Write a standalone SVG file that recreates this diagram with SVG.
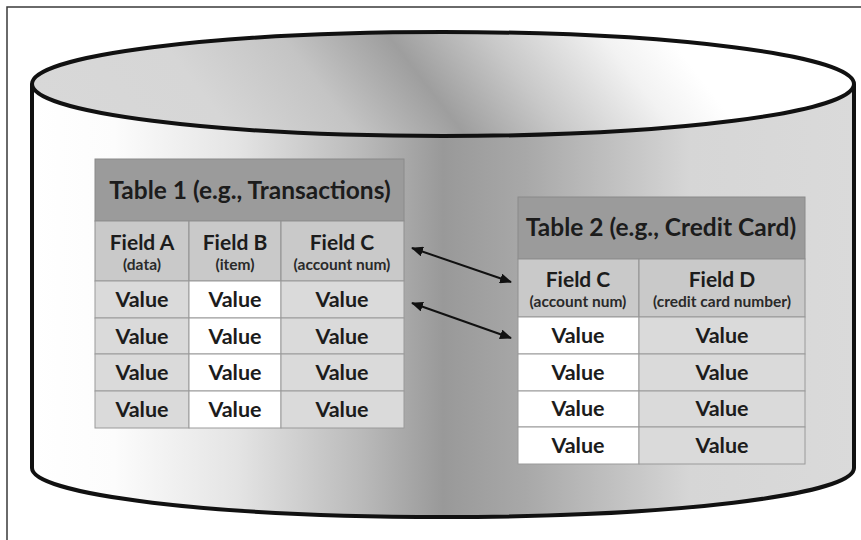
<svg xmlns="http://www.w3.org/2000/svg" width="861" height="540" viewBox="0 0 861 540">
<defs>
<linearGradient id="gBody" gradientUnits="userSpaceOnUse" x1="32" y1="0" x2="854" y2="0">
<stop offset="0" stop-color="#ffffff"/>
<stop offset="0.1" stop-color="#fcfcfc"/>
<stop offset="0.25" stop-color="#e4e4e4"/>
<stop offset="0.4" stop-color="#bababa"/>
<stop offset="0.5" stop-color="#999999"/>
<stop offset="0.6" stop-color="#a8a8a8"/>
<stop offset="0.8" stop-color="#d6d6d6"/>
<stop offset="1" stop-color="#dadada"/>
</linearGradient>
<linearGradient id="gTop" gradientUnits="userSpaceOnUse" x1="184" y1="283" x2="700" y2="-115">
<stop offset="0" stop-color="#d8d8d8"/>
<stop offset="0.2" stop-color="#d6d6d6"/>
<stop offset="0.35" stop-color="#c4c4c4"/>
<stop offset="0.48" stop-color="#9e9e9e"/>
<stop offset="0.6" stop-color="#c8c8c8"/>
<stop offset="0.74" stop-color="#f2f2f2"/>
<stop offset="0.82" stop-color="#ffffff"/>
<stop offset="1" stop-color="#ffffff"/>
</linearGradient>
<marker id="ah" viewBox="0 0 12 10" refX="11" refY="5" markerWidth="12" markerHeight="10" markerUnits="userSpaceOnUse" orient="auto-start-reverse">
<path d="M0,0 L12,5 L0,10 Z" fill="#111"/>
</marker>
<style>
.title{font-family:Lato,"Liberation Sans",sans-serif;font-weight:bold;font-size:24.5px;fill:#1c1c1c;text-anchor:middle}
.fld{font-family:Lato,"Liberation Sans",sans-serif;font-weight:bold;font-size:21px;fill:#1c1c1c;text-anchor:middle}
.sub{font-family:Lato,"Liberation Sans",sans-serif;font-weight:bold;font-size:15.5px;fill:#2a2a2a;text-anchor:middle}
.val{font-family:Lato,"Liberation Sans",sans-serif;font-weight:bold;font-size:21.5px;fill:#1c1c1c;text-anchor:middle}
.th{fill:#9b9b9b;stroke:#8a8a8a;stroke-width:1}
.hd{fill:#c9c9c9;stroke:#8f8f8f;stroke-width:1}
.cg{fill:#dadada;stroke:#9a9a9a;stroke-width:1}
.cw{fill:#ffffff;stroke:#9a9a9a;stroke-width:1}
.conn{stroke:#111;stroke-width:2;fill:none}
</style>
</defs>
<rect x="7" y="7" width="900" height="600" fill="#ffffff" stroke="#3a3a3a" stroke-width="1.5"/>
<g id="cylinder">
<path d="M32,84 V468 A411,49 0 0 0 854,468 V84 Z" fill="url(#gBody)"/>
<path d="M32,84 V468 A411,49 0 0 0 854,468 V84" fill="none" stroke="#111" stroke-width="4"/>
<ellipse cx="443" cy="84" rx="411" ry="52" fill="url(#gTop)" stroke="#111" stroke-width="4"/>
</g>
<g id="table1">
<rect class="th" x="95" y="159" width="309" height="62"/>
<rect class="hd" x="95" y="221" width="94" height="60"/>
<rect class="hd" x="189" y="221" width="92" height="60"/>
<rect class="hd" x="281" y="221" width="123" height="60"/>
<rect class="cg" x="95" y="281" width="94" height="37"/>
<rect class="cw" x="189" y="281" width="92" height="37"/>
<rect class="cg" x="281" y="281" width="123" height="37"/>
<rect class="cg" x="95" y="318" width="94" height="36"/>
<rect class="cw" x="189" y="318" width="92" height="36"/>
<rect class="cg" x="281" y="318" width="123" height="36"/>
<rect class="cg" x="95" y="354" width="94" height="37"/>
<rect class="cw" x="189" y="354" width="92" height="37"/>
<rect class="cg" x="281" y="354" width="123" height="37"/>
<rect class="cg" x="95" y="391" width="94" height="37"/>
<rect class="cw" x="189" y="391" width="92" height="37"/>
<rect class="cg" x="281" y="391" width="123" height="37"/>
<text class="title" x="250" y="199">Table 1 (e.g., Transactions)</text>
<text class="fld" x="142" y="250">Field A</text>
<text class="sub" x="142" y="270">(data)</text>
<text class="fld" x="235" y="250">Field B</text>
<text class="sub" x="235" y="270">(item)</text>
<text class="fld" x="342" y="250">Field C</text>
<text class="sub" x="342" y="270">(account num)</text>
<text class="val" x="142" y="307">Value</text>
<text class="val" x="235" y="307">Value</text>
<text class="val" x="342" y="307">Value</text>
<text class="val" x="142" y="344">Value</text>
<text class="val" x="235" y="344">Value</text>
<text class="val" x="342" y="344">Value</text>
<text class="val" x="142" y="380">Value</text>
<text class="val" x="235" y="380">Value</text>
<text class="val" x="342" y="380">Value</text>
<text class="val" x="142" y="417">Value</text>
<text class="val" x="235" y="417">Value</text>
<text class="val" x="342" y="417">Value</text>
</g>
<g id="table2">
<rect class="th" x="518" y="197" width="287" height="62"/>
<rect class="hd" x="518" y="259" width="121" height="58"/>
<rect class="hd" x="639" y="259" width="166" height="58"/>
<rect class="cw" x="518" y="317" width="121" height="37"/>
<rect class="cg" x="639" y="317" width="166" height="37"/>
<rect class="cw" x="518" y="354" width="121" height="37"/>
<rect class="cg" x="639" y="354" width="166" height="37"/>
<rect class="cw" x="518" y="391" width="121" height="36"/>
<rect class="cg" x="639" y="391" width="166" height="36"/>
<rect class="cw" x="518" y="427" width="121" height="37"/>
<rect class="cg" x="639" y="427" width="166" height="37"/>
<text class="title" x="661" y="236">Table 2 (e.g., Credit Card)</text>
<text class="fld" x="578" y="287">Field C</text>
<text class="sub" x="578" y="307">(account num)</text>
<text class="fld" x="722" y="287">Field D</text>
<text class="sub" x="722" y="307">(credit card number)</text>
<text class="val" x="578" y="343">Value</text>
<text class="val" x="722" y="343">Value</text>
<text class="val" x="578" y="380">Value</text>
<text class="val" x="722" y="380">Value</text>
<text class="val" x="578" y="416">Value</text>
<text class="val" x="722" y="416">Value</text>
<text class="val" x="578" y="453">Value</text>
<text class="val" x="722" y="453">Value</text>
</g>
<g id="connectors">
<line class="conn" x1="412" y1="248" x2="511" y2="282" marker-start="url(#ah)" marker-end="url(#ah)"/>
<line class="conn" x1="412" y1="303" x2="511" y2="338" marker-start="url(#ah)" marker-end="url(#ah)"/>
</g>
</svg>
